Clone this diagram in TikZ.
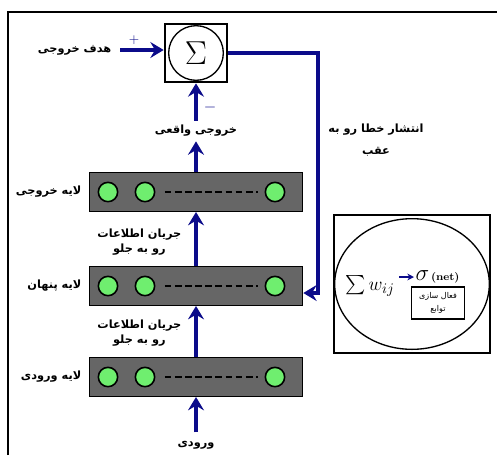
\documentclass[tikz,border=0pt]{standalone}
\usepackage{fontspec}
\usepackage{amsmath}
\usetikzlibrary{arrows.meta,shapes.geometric}
\TeXXeTstate=1
\newfontfamily\farsifont[Script=Arabic]{DejaVu Sans}
\newcommand{\farsitext}[1]{{\farsifont\beginR #1\endR}}
\definecolor{flownavy}{HTML}{0B0B8A}
\definecolor{layergray}{HTML}{666666}
\definecolor{unitgreen}{HTML}{6FEE6F}

\begin{document}
\begin{tikzpicture}[
  x=0.75pt,
  y={(0pt,-0.75pt)},
  every node/.style={font=\fontsize{8.5}{10.5}\selectfont\bfseries, black},
  frame/.style={black, line width=1.5pt},
  flow/.style={flownavy, line width=2.3pt,
               -{Stealth[length=10pt, width=12pt, inset=3.5pt]}},
  layer/.style={draw=black, line width=1pt, fill=layergray,
                minimum width=160pt, minimum height=29pt, inner sep=0pt},
  unit/.style={circle, draw=black, line width=1.2pt, fill=unitgreen,
               minimum size=14.5pt, inner sep=0pt},
  dots/.style={black, line width=1.5pt, dash pattern=on 5pt off 2.6pt},
  sumbox/.style={draw=black, line width=1.5pt, minimum width=47pt,
                 minimum height=44pt, inner sep=0pt},
  sumring/.style={circle, draw=black, line width=1pt, minimum size=41pt,
                  inner sep=0pt},
  sign/.style={flownavy, inner sep=0pt},
  actbox/.style={draw=black, line width=1.3pt, minimum width=117pt,
                 minimum height=103pt, inner sep=0pt},
  actring/.style={ellipse, draw=black, line width=1pt, minimum width=116pt,
                  minimum height=98pt, inner sep=0pt},
  actfn/.style={draw=black, line width=1.1pt, minimum width=40pt,
                minimum height=24pt, inner sep=0pt, align=center,
                font=\fontsize{6}{10}\selectfont}
]
  \useasboundingbox (0,0) rectangle (497,455);

  % ---- page frame ----
  \draw[frame] (8,455) -- (8,12) -- (497,12);

  % ---- summing junction ----
  \node[sumbox] (sum) at (196,53) {};
  \node[sumring] (sumring) at (sum) {\fontsize{30}{30}\selectfont$\Sigma$};

  % ---- the three layers ----
  \node[layer] (outlayer) at (196,192) {};
  \node[layer] (hidlayer) at (196,286) {};
  \node[layer] (inlayer)  at (196,377) {};

  \foreach \lay/\y in {outlayer/192, hidlayer/286, inlayer/377} {
    \node[unit] (\lay-a) at (108,\y) {};
    \node[unit] (\lay-b) at (145,\y) {};
    \node[unit] (\lay-c) at (275,\y) {};
    \draw[dots, shorten <=7pt, shorten >=5pt] (\lay-b) -- (\lay-c);
  }

  % ---- layer labels ----
  \node[anchor=east] (outname) at (86,192) {\farsitext{لایه خروجی}};
  \node[anchor=east] (hidname) at (86,286) {\farsitext{لایه پنهان}};
  \node[anchor=east] (inname)  at (86,377) {\farsitext{لایه ورودی}};

  % ---- target, actual output and input ----
  \node[anchor=east] (target) at (116,50) {\farsitext{هدف خروجی}};
  \node (actual) at (196,131) {\farsitext{خروجی واقعی}};
  \node (input)  at (196,445) {\farsitext{ورودی}};
  \node[sign, font=\fontsize{10}{10}\selectfont] (plus) at (134,40) {$+$};
  \node[sign, font=\fontsize{12}{12}\selectfont\bfseries] (minus) at (210,107) {$-$};

  % ---- forward flow ----
  \draw[flow, shorten <=3pt] (target.east) -- (target.east -| sum.west);
  \draw[flow] (actual.north) -- (sum.south);
  \draw[flow] (outlayer.north) -- (actual.south);
  \draw[flow] (hidlayer.north) -- (outlayer.south);
  \draw[flow] (inlayer.north) -- (hidlayer.south);
  \draw[flow, shorten <=3pt] (input.north) -- (inlayer.south);

  \node[align=center, anchor=east] (fwdtop) at (186,242)
    {\farsitext{جریان اطلاعات}\\[1pt]\farsitext{رو به جلو}};
  \node[align=center, anchor=east] (fwdlow) at (186,333)
    {\farsitext{جریان اطلاعات}\\[1pt]\farsitext{رو به جلو}};

  % ---- error fed back ----
  \coordinate (errturn) at (318,293);
  \draw[flow] (sum.east) -| (errturn) -- (errturn -| hidlayer.east);
  \node[align=center] (errname) at (376,140)
    {\farsitext{انتشار خطا رو به}\\[6pt]\farsitext{عقب}};

  % ---- a single unit ----
  \node[actbox] (act) at (412,284) {};
  \node[actring] (actring) at (act) {};
  \node[font=\fontsize{15}{15}\selectfont] (wsum) at (370,286) {$\sum w_{ij}$};
  \node[font=\fontsize{9}{9}\selectfont, anchor=west, inner sep=1pt] (netout) at (414,277)
    {\fontsize{17}{17}\selectfont$\sigma$\fontsize{8}{8}\selectfont\,\textbf{(net)}};
  \draw[flownavy, line width=1.1pt, -{Stealth[length=5pt, width=5pt]}]
    (wsum.east |- netout) -- (netout.west);
  \node[actfn] (actfn) at (438,303) {\farsitext{فعال سازی}\\\farsitext{توابع}};
\end{tikzpicture}
\end{document}
